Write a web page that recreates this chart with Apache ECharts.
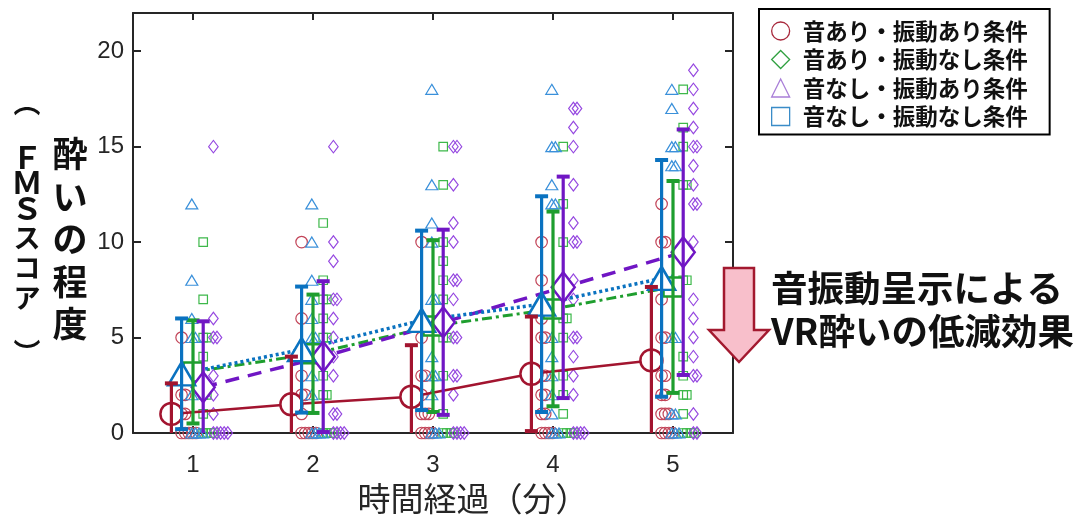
<!DOCTYPE html>
<html>
<head>
<meta charset="utf-8">
<script src="https://cdn.jsdelivr.net/npm/echarts@6/dist/echarts.min.js"></script>
<style>
html,body{margin:0;padding:0;background:#fff;}
#chart{width:1084px;height:520px;}
</style>
</head>
<body>
<div id="chart"></div>
<script>
// ---------------- data ----------------
const times = [1, 2, 3, 4, 5];
const yTickValues = [0, 5, 10, 15, 20];
const conditionNames = ['音あり・振動あり条件', '音あり・振動なし条件', '音なし・振動あり条件', '音なし・振動なし条件'];
const yTitleMain = ['酔', 'い', 'の', '程', '度'];
const yTitleSub = ['︵', 'Ｆ', 'Ｍ', 'Ｓ', 'ス', 'コ', 'ア', '︶'];
const xTitle = '時間経過（分）';
const annotation = '音振動呈示による\nVR酔いの低減効果';

// means and standard deviations
const meanSoundVib = [1.0, 1.5, 1.9, 3.1, 3.8];
const sdSoundVib = [1.6, 2.5, 2.7, 3.0, 3.85];
const meanSoundNoVib = [3.2, 4.15, 5.6, 6.5, 7.65];
const sdSoundNoVib = [2.7, 3.1, 4.5, 5.1, 5.55];
const meanNoSoundVib = [2.4, 4.0, 5.8, 7.63, 9.47];
const sdNoSoundVib = [3.45, 3.95, 4.85, 5.8, 6.43];
const meanNoSoundNoVib = [3.1, 4.37, 5.9, 6.75, 8.1];
const sdNoSoundNoVib = [2.9, 3.3, 4.7, 5.65, 6.2];

// individual FMS scores per minute
const scoresSoundVib = [
  [5, 3, 2, 2, 1, 1, 0, 0, 0, 0, 0],
  [10, 6, 3, 2, 2, 1, 0, 0, 0, 0, 0],
  [10, 5, 3, 3, 2, 1, 1, 1, 0, 0, 0, 0],
  [10, 8, 6, 5, 5, 3, 3, 2, 2, 1, 1, 0, 0, 0, 0],
  [12, 10, 10, 7, 5, 5, 3, 3, 2, 2, 1, 1, 1, 0, 0, 0, 0]
];
const scoresSoundNoVib = [
  [10, 7, 5, 5, 4, 2, 2, 1, 0, 0, 0, 0],
  [11, 8, 7, 7, 6, 5, 5, 3, 2, 2, 0, 0, 0, 0],
  [15, 13, 10, 9, 8, 7, 5, 5, 3, 1, 0, 0, 0, 0],
  [15, 12, 10, 6, 6, 5, 3, 2, 1, 0, 0, 0, 0],
  [18, 16, 15, 13, 13, 8, 8, 4, 3, 2, 2, 1, 0, 0, 0, 0]
];
const scoresNoSoundVib = [
  [15, 6, 5, 5, 3, 2, 1, 0, 0, 0, 0, 0],
  [15, 10, 9, 7, 7, 6, 5, 4, 3, 1, 1, 0, 0, 0, 0],
  [15, 15, 13, 11, 10, 8, 8, 7, 5, 5, 3, 3, 2, 0, 0, 0, 0],
  [17, 17, 16, 15, 13, 11, 10, 10, 8, 7, 5, 5, 4, 3, 2, 0, 0, 0, 0],
  [19, 18, 17, 16, 15, 15, 14, 13, 12, 12, 10, 7, 6, 5, 4, 3, 3, 1, 0, 0]
];
const scoresNoSoundNoVib = [
  [12, 8, 6, 5, 5, 3, 2, 0, 0, 0, 0],
  [12, 10, 8, 7, 6, 5, 5, 3, 2, 0, 0, 0, 0],
  [18, 13, 11, 10, 7, 7, 4, 3, 3, 2, 0, 0, 0],
  [18, 15, 15, 13, 12, 12, 5, 4, 3, 2, 1, 0, 0, 0],
  [18, 17, 15, 15, 14, 14, 8, 5, 5, 1, 1, 0, 0, 0]
];

// ---------------- styling ----------------
const axisColor = '#262626';
const cjk = '"Noto Sans CJK JP", "Noto Sans", sans-serif';
const latin = '"Liberation Sans", Arial, sans-serif';
const conds = [
  {name: conditionNames[0], mean: meanSoundVib, sd: sdSoundVib, scores: scoresSoundVib,
   off: -0.18, color: '#A2142F', ptColor: '#C24458', symbol: 'circle', meanSize: 22, ptSize: 11.5,
   line: {type: 'solid', width: 2.5}, legendIcon: 'circle', legendColor: '#A8283C'},
  {name: conditionNames[1], mean: meanSoundNoVib, sd: sdSoundNoVib, scores: scoresSoundNoVib,
   off: 0.0, color: '#1E9E2E', ptColor: '#3DB84A', symbol: 'rect', meanSize: 19, ptSize: 8.5,
   line: {type: [10, 4, 3, 4], width: 3}, legendIcon: 'diamond', legendColor: '#30A040'},
  {name: conditionNames[2], mean: meanNoSoundVib, sd: sdNoSoundVib, scores: scoresNoSoundVib,
   off: 0.085, color: '#7016C4', ptColor: '#9547E0', symbol: 'diamond', meanSize: [23, 30], ptSize: [9.5, 12.5],
   line: {type: [14, 9], width: 3.5}, legendIcon: 'triangle', legendColor: '#A97FD8'},
  {name: conditionNames[3], mean: meanNoSoundNoVib, sd: sdNoSoundNoVib, scores: scoresNoSoundNoVib,
   off: -0.095, color: '#0A72C0', ptColor: '#3A90DA', symbol: 'triangle', meanSize: [27, 23], ptSize: [12, 10],
   line: {type: [3, 3], width: 3.5}, legendIcon: 'rect', legendColor: '#3A8CC8'}
];

const series = [];
// individual points (duplicates spread sideways)
conds.forEach(function (c) {
  const pts = [];
  times.forEach(function (t, i) {
    const seen = {};
    c.scores[i].forEach(function (v) {
      const k = seen[v] || 0;
      seen[v] = k + 1;
      pts.push([t + c.off + 0.085 + k * 0.03, v]);
    });
  });
  series.push({
    type: 'scatter', silent: true, z: 2, data: pts,
    symbol: c.symbol, symbolSize: c.ptSize,
    itemStyle: {color: 'rgba(0,0,0,0)', borderColor: c.ptColor, borderWidth: 1.2, opacity: 1}
  });
});
// lines connecting means
conds.forEach(function (c) {
  series.push({
    type: 'line', silent: true, z: 3, showSymbol: false, symbol: 'none',
    data: times.map(function (t, i) { return [t + c.off, c.mean[i]]; }),
    lineStyle: {color: c.color, width: c.line.width, type: c.line.type}
  });
});
// mean markers
conds.forEach(function (c) {
  series.push({
    name: c.name, type: 'scatter', z: 4, silent: true,
    data: times.map(function (t, i) { return [t + c.off, c.mean[i]]; }),
    symbol: c.symbol, symbolSize: c.meanSize,
    itemStyle: {color: '#ffffff', borderColor: c.color, borderWidth: 2.5, opacity: 1}
  });
});
// error bars (mean ± SD)
conds.forEach(function (c) {
  series.push({
    type: 'custom', z: 5, silent: true,
    data: times.map(function (t, i) { return [t + c.off, c.mean[i], c.sd[i]]; }),
    renderItem: function (params, api) {
      const x = api.value(0), m = api.value(1), s = api.value(2);
      const hi = api.coord([x, m + s]);
      const lowVal = m - s;
      const lo = api.coord([x, Math.max(lowVal, 0)]);
      const cap = 6.5;
      const st = {stroke: c.color, lineWidth: 3.2, lineCap: 'butt'};
      const children = [
        {type: 'line', shape: {x1: hi[0], y1: hi[1], x2: lo[0], y2: lo[1]}, style: st},
        {type: 'line', shape: {x1: hi[0] - cap, y1: hi[1], x2: hi[0] + cap, y2: hi[1]}, style: {stroke: c.color, lineWidth: 4}}
      ];
      if (lowVal >= 0) {
        children.push({type: 'line', shape: {x1: lo[0] - cap, y1: lo[1], x2: lo[0] + cap, y2: lo[1]}, style: {stroke: c.color, lineWidth: 4}});
      }
      return {type: 'group', children: children};
    }
  });
});

const axisBase = {
  type: 'value',
  axisLine: {show: true, onZero: false, lineStyle: {color: axisColor, width: 2}},
  splitLine: {show: false}
};

// y-axis title columns (vertical text)
const graphics = [];
yTitleMain.forEach(function (ch, i) {
  graphics.push({type: 'text', x: 70, y: 154 + i * 42.5, z: 10,
    style: {text: ch, fill: '#111', font: 'bold 35px ' + cjk, textAlign: 'center', textVerticalAlign: 'middle'}});
});
const subCentres = [103, 157, 182, 208, 238, 268, 298, 353];
yTitleSub.forEach(function (ch, i) {
  const latinChar = (i >= 1 && i <= 3);
  graphics.push({type: 'text', x: 27, y: subCentres[i], z: 10,
    style: {text: ch, fill: '#111', font: 'bold ' + (latinChar ? 31 : 27) + 'px ' + cjk, textAlign: 'center', textVerticalAlign: 'middle'}});
});
graphics.push(
  {type: 'text', x: 473, y: 498, z: 10,
   style: {text: xTitle, fill: axisColor, font: '33px ' + cjk, textAlign: 'center', textVerticalAlign: 'middle'}},
  {type: 'polygon', z: 20,
   shape: {points: [[724, 268], [754, 268], [754, 330], [769, 330], [739, 362], [709, 330], [724, 330]]},
   style: {fill: '#F8BFCB', stroke: '#A3192F', lineWidth: 2.5, lineJoin: 'miter'}},
  {type: 'text', x: 771, y: 267, z: 10,
   style: {text: annotation, fill: '#111', font: 'bold 36.5px ' + cjk, lineHeight: 43, textAlign: 'left', textVerticalAlign: 'top'}}
);

const option = {
  animation: false,
  backgroundColor: '#ffffff',
  grid: {left: 133, top: 13, width: 600, height: 420, containLabel: false},
  xAxis: [
    Object.assign({}, axisBase, {
      position: 'bottom', min: 0.5, max: 5.5,
      axisTick: {show: true, inside: true, length: 7, customValues: times, lineStyle: {color: axisColor, width: 2}},
      axisLabel: {customValues: times, fontSize: 24, margin: 20, color: axisColor, fontFamily: latin}
    }),
    Object.assign({}, axisBase, {
      position: 'top', min: 0.5, max: 5.5,
      axisTick: {show: true, inside: true, length: 7, customValues: times, lineStyle: {color: axisColor, width: 2}},
      axisLabel: {show: false}
    })
  ],
  yAxis: [
    Object.assign({}, axisBase, {
      position: 'left', min: 0, max: 22,
      axisTick: {show: true, inside: true, length: 8, customValues: yTickValues, lineStyle: {color: axisColor, width: 2}},
      axisLabel: {customValues: yTickValues, fontSize: 24, margin: 9, color: axisColor, fontFamily: latin}
    }),
    Object.assign({}, axisBase, {
      position: 'right', min: 0, max: 22,
      axisTick: {show: true, inside: true, length: 8, customValues: yTickValues, lineStyle: {color: axisColor, width: 2}},
      axisLabel: {show: false}
    })
  ],
  legend: {
    orient: 'vertical', left: 759, top: 9,
    padding: [10, 22, 6, 12], itemGap: 4.5,
    itemWidth: 18, itemHeight: 18,
    borderColor: '#000', borderWidth: 2, backgroundColor: '#fff',
    selectedMode: false,
    textStyle: {fontSize: 22.5, fontWeight: 'bold', color: '#111', fontFamily: cjk, lineHeight: 24, padding: [0, 0, 0, 8]},
    data: conds.map(function (c) {
      return {name: c.name, icon: c.legendIcon,
        itemStyle: {color: '#ffffff', borderColor: c.legendColor, borderWidth: 1.3}};
    })
  },
  graphic: graphics,
  series: series
};

const chart = echarts.init(document.getElementById('chart'), null, {renderer: 'canvas'});
chart.setOption(option);
</script>
</body>
</html>
